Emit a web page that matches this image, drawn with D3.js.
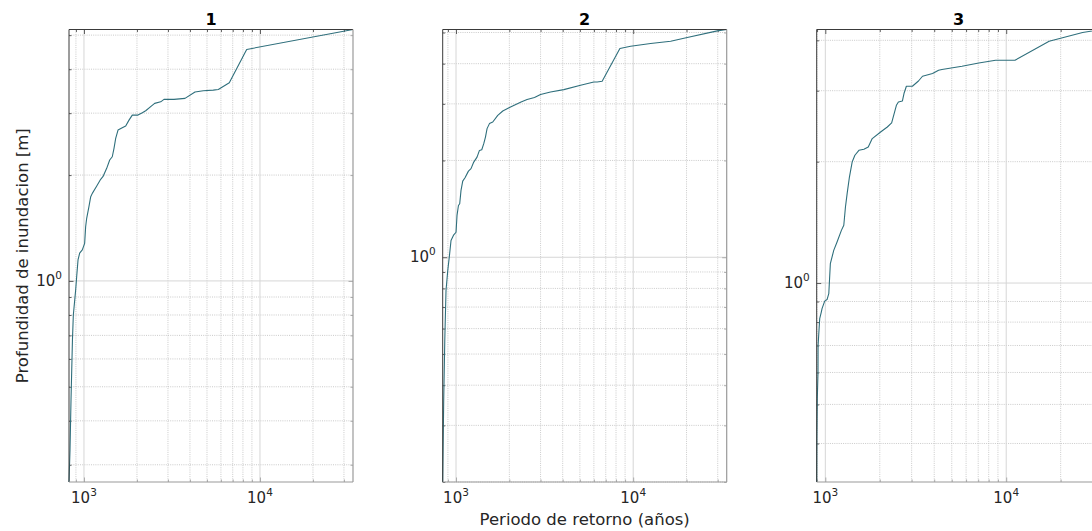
<!DOCTYPE html>
<html>
<head>
<meta charset="utf-8">
<script src="https://cdn.jsdelivr.net/npm/d3@7"></script>
<style>
  body { margin: 0; background: #fff; overflow: hidden; }
  svg { display: block; }
</style>
</head>
<body>
<svg id="chart"></svg>
<script>
// ---- data ----
const panelTitles = ["1", "2", "3"];

const period1 = [822, 833, 844, 860, 870, 897, 909, 925, 945, 978, 1009, 1022, 1036, 1067, 1092, 1115, 1175, 1244, 1287, 1346, 1400, 1448, 1481, 1514, 1561, 1629, 1726, 1802, 1881, 2027, 2145, 2242, 2412, 2521, 2728, 2848, 3246, 3749, 4273, 4763, 5428, 5797, 6693, 8403, 33770];
const depth1 = [0.268, 0.331, 0.459, 0.680, 0.800, 0.943, 1.029, 1.147, 1.199, 1.225, 1.279, 1.426, 1.507, 1.626, 1.736, 1.774, 1.853, 1.945, 1.987, 2.090, 2.207, 2.255, 2.382, 2.543, 2.685, 2.716, 2.757, 2.866, 2.962, 2.962, 3.007, 3.047, 3.141, 3.198, 3.231, 3.283, 3.283, 3.304, 3.444, 3.473, 3.488, 3.504, 3.659, 4.553, 5.188];

const period2 = [841, 852, 864, 878, 898, 918, 937, 971, 1000, 1013, 1032, 1049, 1067, 1091, 1124, 1175, 1215, 1259, 1314, 1356, 1397, 1434, 1466, 1497, 1544, 1612, 1720, 1836, 2003, 2329, 2518, 2773, 2999, 3414, 4059, 5045, 5998, 6262, 6680, 8413, 9668, 12540, 16270, 20190, 29830, 33710];
const depth2 = [0.200, 0.358, 0.550, 0.788, 0.909, 1.012, 1.127, 1.174, 1.196, 1.349, 1.449, 1.467, 1.614, 1.725, 1.768, 1.853, 1.886, 1.977, 2.049, 2.149, 2.160, 2.256, 2.365, 2.512, 2.604, 2.634, 2.763, 2.850, 2.921, 3.040, 3.093, 3.138, 3.206, 3.266, 3.322, 3.426, 3.509, 3.509, 3.527, 4.459, 4.533, 4.622, 4.699, 4.825, 5.058, 5.109];

const period3 = [896, 898, 903, 911, 912, 919, 931, 950, 959, 992, 1022, 1045, 1066, 1113, 1161, 1227, 1265, 1292, 1320, 1359, 1407, 1457, 1533, 1634, 1727, 1817, 2021, 2202, 2326, 2471, 2535, 2668, 2727, 2806, 3028, 3273, 3445, 3916, 4228, 4411, 5695, 7053, 8734, 11180, 17270, 26440, 33290];
const depth3 = [0.321, 0.411, 0.517, 0.601, 0.700, 0.742, 0.816, 0.847, 0.864, 0.902, 0.910, 0.941, 1.117, 1.205, 1.264, 1.351, 1.391, 1.544, 1.666, 1.832, 1.996, 2.075, 2.134, 2.147, 2.175, 2.282, 2.370, 2.438, 2.495, 2.760, 2.813, 2.829, 2.961, 3.077, 3.077, 3.171, 3.258, 3.308, 3.371, 3.385, 3.449, 3.515, 3.570, 3.570, 3.979, 4.182, 4.255];

// labelled decades
const xMajorTicks = [1e3, 1e4];
const yMajorTicks = [1];

const xLabel = "Periodo de retorno (años)";
const yLabel = "Profundidad de inundacion [m]";

(function () {
  // ---- layout ----
  const W = 1092, H = 531;
  const panelLeft = [69, 442.7, 816.7];
  const panelW = 284;
  const plotTop = 29.5, plotBottom = 482;
  const innerH = plotBottom - plotTop;

  const FONT = "DejaVu Sans, sans-serif";
  const lineColor = "#2f6f7c";
  const darkAxis = "#3a3a3a", lightAxis = "#9a9a9a";

  const svg = d3.select("#chart").attr("width", W).attr("height", H);

  const isMajor = (v) => Math.abs(Math.log10(v) - Math.round(Math.log10(v))) < 1e-9;
  const expOf = (v) => Math.round(Math.log10(v));

  const panels = [
    { title: panelTitles[0], x: period1, y: depth1 },
    { title: panelTitles[1], x: period2, y: depth2 },
    { title: panelTitles[2], x: period3, y: depth3 }
  ];

  panels.forEach((p, i) => {
    const x0 = panelLeft[i];
    const g = svg.append("g").attr("transform", `translate(${x0},${plotTop})`);

    const xs = d3.scaleLog().domain(d3.extent(p.x)).range([0, panelW]);
    const ys = d3.scaleLog().domain(d3.extent(p.y)).range([innerH, 0]);

    const xt = xs.ticks();
    const yt = ys.ticks();
    const xMin = xt.filter(v => !isMajor(v)), xMaj = xt.filter(isMajor);
    const yMin = yt.filter(v => !isMajor(v)), yMaj = yt.filter(isMajor);

    // minor grid (dotted)
    g.append("g").selectAll("line")
      .data(xMin)
      .join("line")
      .attr("x1", d => xs(d)).attr("x2", d => xs(d))
      .attr("y1", 0).attr("y2", innerH)
      .attr("stroke", "#bdbdbd").attr("stroke-width", 0.8)
      .attr("stroke-dasharray", "1,1.2");
    g.append("g").selectAll("line")
      .data(yMin)
      .join("line")
      .attr("y1", d => ys(d)).attr("y2", d => ys(d))
      .attr("x1", 0).attr("x2", panelW)
      .attr("stroke", "#bdbdbd").attr("stroke-width", 0.8)
      .attr("stroke-dasharray", "1,1.2");

    // major grid (solid)
    g.append("g").selectAll("line")
      .data(xMaj)
      .join("line")
      .attr("x1", d => xs(d)).attr("x2", d => xs(d))
      .attr("y1", 0).attr("y2", innerH)
      .attr("stroke", "#d6d6d6").attr("stroke-width", 1);
    g.append("g").selectAll("line")
      .data(yMaj)
      .join("line")
      .attr("y1", d => ys(d)).attr("y2", d => ys(d))
      .attr("x1", 0).attr("x2", panelW)
      .attr("stroke", "#d6d6d6").attr("stroke-width", 1);

    // inward tick marks on all four sides (major longer than minor)
    const tickSet = (axisFn, scale, vals, size, tr, color) => {
      const a = g.append("g").attr("transform", tr)
        .call(axisFn(scale).tickValues(vals).tickSizeInner(-size).tickSizeOuter(0).tickFormat(""));
      a.select(".domain").remove();
      a.selectAll("line").attr("stroke", color).attr("stroke-width", 0.8);
    };
    tickSet(d3.axisBottom, xs, xMaj, 4.5, `translate(0,${innerH})`, lightAxis);
    tickSet(d3.axisBottom, xs, xMin, 2.5, `translate(0,${innerH})`, lightAxis);
    tickSet(d3.axisTop, xs, xMaj, 4.5, "translate(0,0)", darkAxis);
    tickSet(d3.axisTop, xs, xMin, 2.5, "translate(0,0)", darkAxis);
    tickSet(d3.axisLeft, ys, yMaj, 4.5, "translate(0,0)", darkAxis);
    tickSet(d3.axisLeft, ys, yMin, 2.5, "translate(0,0)", darkAxis);
    tickSet(d3.axisRight, ys, yMaj, 4.5, `translate(${panelW},0)`, lightAxis);
    tickSet(d3.axisRight, ys, yMin, 2.5, `translate(${panelW},0)`, lightAxis);

    // data line
    const clipId = "clip" + i;
    g.append("clipPath").attr("id", clipId)
      .append("rect").attr("x", -1).attr("y", -1).attr("width", panelW + 2).attr("height", innerH + 2);
    const line = d3.line().x(d => xs(d[0])).y(d => ys(d[1]));
    g.append("path")
      .datum(d3.zip(p.x, p.y))
      .attr("clip-path", `url(#${clipId})`)
      .attr("d", line)
      .attr("fill", "none")
      .attr("stroke", lineColor)
      .attr("stroke-width", 1.1)
      .attr("stroke-linejoin", "round");

    // box
    g.append("line").attr("x1", 0).attr("x2", panelW).attr("y1", 0).attr("y2", 0)
      .attr("stroke", darkAxis).attr("stroke-width", 1);
    g.append("line").attr("x1", 0).attr("x2", 0).attr("y1", 0).attr("y2", innerH)
      .attr("stroke", darkAxis).attr("stroke-width", 1);
    g.append("line").attr("x1", 0).attr("x2", panelW).attr("y1", innerH).attr("y2", innerH)
      .attr("stroke", lightAxis).attr("stroke-width", 1.2);
    g.append("line").attr("x1", panelW).attr("x2", panelW).attr("y1", 0).attr("y2", innerH)
      .attr("stroke", lightAxis).attr("stroke-width", 1.2);

    // x tick labels 10^k
    xMajorTicks.filter(v => v >= xs.domain()[0] && v <= xs.domain()[1]).forEach(v => {
      const t = g.append("text")
        .attr("x", xs(v)).attr("y", innerH + 21)
        .attr("text-anchor", "middle")
        .attr("font-family", FONT).attr("font-size", 15)
        .attr("fill", "#262626");
      t.append("tspan").text("10");
      t.append("tspan").attr("dy", -7).attr("font-size", 10.5).text(expOf(v));
    });

    // y tick labels 10^k
    yMajorTicks.filter(v => v >= ys.domain()[0] && v <= ys.domain()[1]).forEach(v => {
      const t = g.append("text")
        .attr("x", -7).attr("y", ys(v) + 5)
        .attr("text-anchor", "end")
        .attr("font-family", FONT).attr("font-size", 15)
        .attr("fill", "#262626");
      t.append("tspan").text("10");
      t.append("tspan").attr("dy", -7).attr("font-size", 10.5).text(expOf(v));
    });

    // title
    g.append("text")
      .attr("x", panelW / 2).attr("y", -5)
      .attr("text-anchor", "middle")
      .attr("font-family", FONT).attr("font-size", 16)
      .attr("font-weight", "bold")
      .attr("fill", "#000")
      .text(p.title);
  });

  // shared axis labels
  svg.append("text")
    .attr("x", panelLeft[1] + panelW / 2).attr("y", 525)
    .attr("text-anchor", "middle")
    .attr("font-family", FONT).attr("font-size", 16.5)
    .attr("fill", "#262626")
    .text(xLabel);

  svg.append("text")
    .attr("transform", `translate(22,${(plotTop + plotBottom) / 2}) rotate(-90)`)
    .attr("text-anchor", "middle")
    .attr("dominant-baseline", "central")
    .attr("font-family", FONT).attr("font-size", 16.5)
    .attr("fill", "#262626")
    .text(yLabel);
})();
</script>
</body>
</html>
